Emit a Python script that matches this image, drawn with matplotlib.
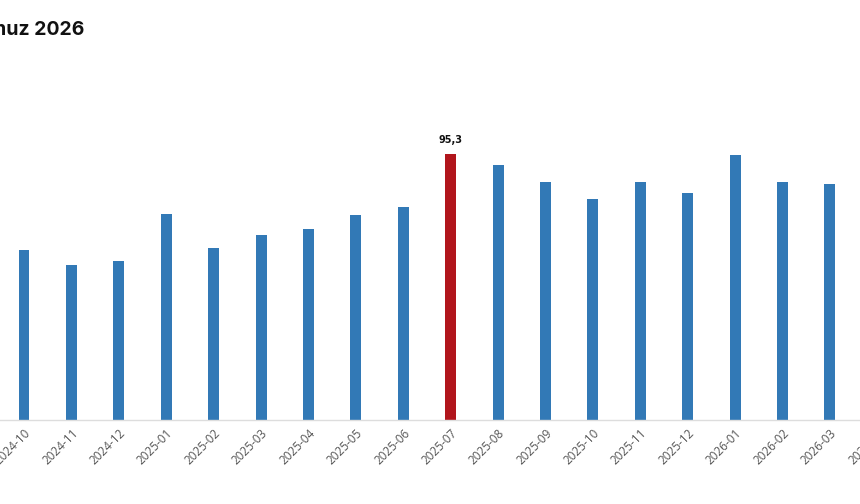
import matplotlib
matplotlib.use("Agg")
import matplotlib.pyplot as plt

# monthly values
months = ["2024-10", "2024-11", "2024-12", "2025-01", "2025-02", "2025-03",
          "2025-04", "2025-05", "2025-06", "2025-07", "2025-08", "2025-09",
          "2025-10", "2025-11", "2025-12", "2026-01", "2026-02", "2026-03",
          "2026-04"]
values = [61.0, 55.7, 57.1, 73.8, 61.6, 66.2, 68.4, 73.4, 76.5, 95.3,
          91.6, 85.5, 79.4, 85.5, 81.4, 95.2, 85.5, 84.8]
highlight = "2025-07"
title = "Temmuz 2026"

BLUE = "#3279b6"
RED = "#b1151c"

fig = plt.figure(figsize=(8.6, 5.04), dpi=100)
# the axes run wider than the canvas, as in the cropped screenshot
ax = fig.add_axes([-0.2, 84 / 504, 1.4, 340 / 504])

colors = [RED if m == highlight else BLUE for m in months[:len(values)]]
ax.bar(range(len(values)), values, width=0.232, color=colors)

ppu = 47.41
xmin = -(24 + 172) / ppu
ax.set_xlim(xmin, xmin + 1204 / ppu)
ax.set_ylim(0, 340 / 2.788)

ax.set_xticks(range(len(months)))
ax.set_xticklabels(months, rotation=45, ha="right", va="top",
                   rotation_mode="anchor", fontsize=8.5, color="#555555",
                   family="Open Sans")
ax.tick_params(axis="x", length=0, pad=5)
ax.set_yticks([])

for side in ["top", "left", "right"]:
    ax.spines[side].set_visible(False)
ax.spines["bottom"].set_color("#dddddd")
ax.spines["bottom"].set_linewidth(1)

i = months.index(highlight)
ax.annotate("{:.1f}".format(values[i]).replace(".", ","), xy=(i, values[i]),
            xytext=(0, 7), textcoords="offset points", ha="center",
            va="bottom", fontsize=7, fontweight="bold", color="#111111")

fig.text(84 / 860, 1 - 35 / 504, title, ha="right", va="baseline",
         fontsize=14, fontweight="bold", color="#111111", family="Inter")

fig.savefig("out.png", dpi=100)
